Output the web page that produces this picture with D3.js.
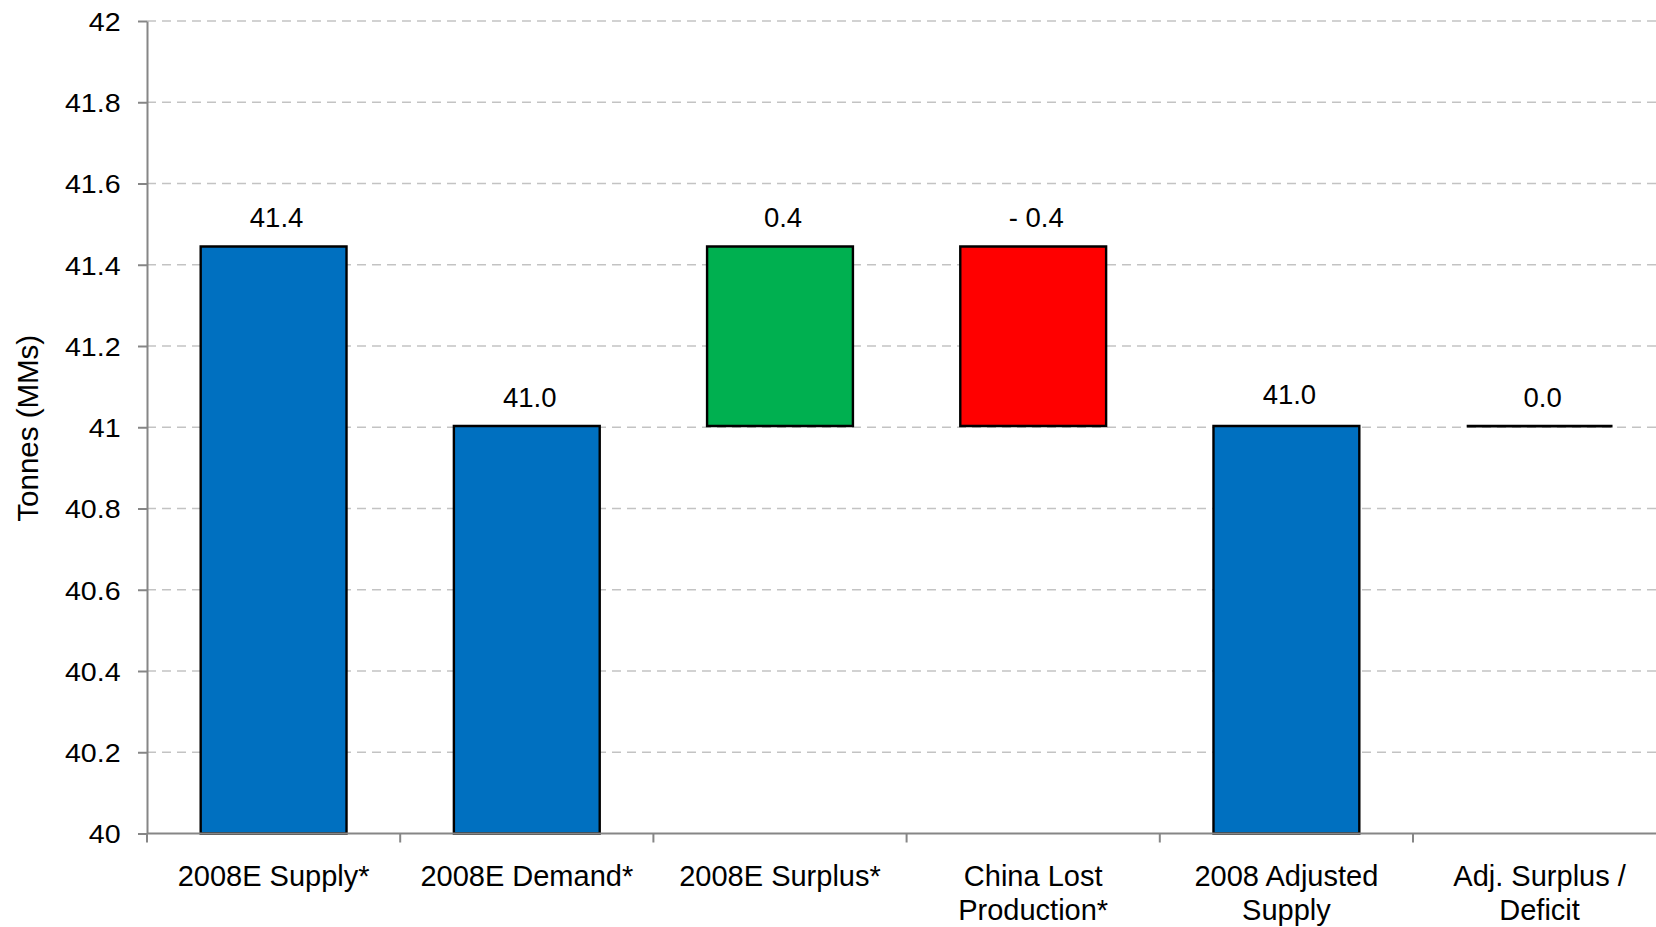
<!DOCTYPE html>
<html>
<head>
<meta charset="utf-8">
<script src="https://cdn.jsdelivr.net/npm/d3@7"></script>
<style>
  html, body { margin: 0; padding: 0; background: #ffffff; }
  svg { display: block; }
  text { font-family: "Liberation Sans", Arial, Helvetica, sans-serif; fill: #000; }
</style>
</head>
<body>
<svg id="chart" width="1656" height="927"></svg>
<script>
// Waterfall: 2008 supply/demand balance (million tonnes)
const categories = ["2008E Supply*", "2008E Demand*", "2008E Surplus*",
                    "China Lost Production*", "2008 Adjusted Supply", "Adj. Surplus / Deficit"];
const categoryLines = [["2008E Supply*"], ["2008E Demand*"], ["2008E Surplus*"],
                       ["China Lost", "Production*"], ["2008 Adjusted", "Supply"], ["Adj. Surplus /", "Deficit"]];
const values = [41.445, 41.003, 0.442, -0.442, 41.003, 0.0];
const kinds = ["total", "total", "delta", "delta", "total", "delta"];
const barColors = ["#0070C0", "#0070C0", "#00B050", "#FF0000", "#0070C0", "#0070C0"];
const yTicks = [40, 40.2, 40.4, 40.6, 40.8, 41, 41.2, 41.4, 41.6, 41.8, 42];
const yDomain = [40, 42];
const yTitle = "Tonnes (MMs)";

const svg = d3.select("#chart");
const W = 1656, H = 927;
const plot = { left: 147, top: 21, bottom: 833.5, step: 253.2 };

svg.append("rect").attr("width", W).attr("height", H).attr("fill", "#fff");

const y = d3.scaleLinear().domain(yDomain).range([plot.bottom, plot.top]);
const x = d3.scaleBand()
  .domain(categories)
  .range([plot.left, plot.left + plot.step * categories.length])
  .paddingInner(0.424)
  .paddingOuter(0.212);

// Running total -> low/high for each bar
let level = yDomain[0];
const bars = categories.map((c, i) => {
  const v = values[i];
  let lo, hi;
  if (kinds[i] === "total") {
    lo = yDomain[0]; hi = v; level = v;
  } else {
    const next = level + v;
    lo = Math.min(level, next); hi = Math.max(level, next); level = next;
  }
  return { c, v, kind: kinds[i], lo, hi, color: barColors[i] };
});

// Dashed gridlines
svg.append("g")
  .selectAll("line")
  .data(yTicks.filter(t => t !== yDomain[0]))
  .join("line")
  .attr("x1", plot.left).attr("x2", W)
  .attr("y1", d => y(d)).attr("y2", d => y(d))
  .attr("stroke", "#c3c3c3")
  .attr("stroke-width", 1.6)
  .attr("stroke-dasharray", "9,6");

// Bars (paths so a zero-height bar still shows as a line)
svg.append("g")
  .selectAll("path")
  .data(bars)
  .join("path")
  .attr("d", d => {
    const x0 = x(d.c), x1 = x0 + x.bandwidth();
    const y0 = y(d.hi), y1 = y(d.lo);
    return `M${x0},${y0}H${x1}V${y1}H${x0}Z`;
  })
  .attr("fill", d => d.color)
  .attr("stroke", "#000")
  .attr("stroke-width", d => d.hi === d.lo ? 2.8 : 2.4);

// Value labels
const fmt = d3.format(".1f");
svg.append("g")
  .selectAll("text")
  .data(bars)
  .join("text")
  .attr("x", d => x(d.c) + x.bandwidth() / 2 + 3)
  .attr("y", d => y(d.hi) - (d.kind === "total" && d.hi < 41.2 && d.c !== categories[1] ? 22 : 19))
  .attr("text-anchor", "middle")
  .attr("font-size", 27.5)
  .text(d => d.v < 0 ? "- " + fmt(-d.v) : fmt(d.v));

// Y axis
const yAxis = svg.append("g")
  .attr("transform", `translate(${plot.left},0)`)
  .call(d3.axisLeft(y).tickValues(yTicks).tickSize(9).tickSizeOuter(0).tickFormat(d3.format("~g")));
yAxis.select(".domain").attr("stroke", "#868686").attr("stroke-width", 2);
yAxis.selectAll(".tick line").attr("stroke", "#868686").attr("stroke-width", 2);
yAxis.selectAll(".tick text")
  .attr("x", -24)
  .attr("dy", "0.36em")
  .attr("transform", "scale(1.1,1)")
  .attr("font-size", 26)
  .attr("font-family", "Liberation Sans, Arial, sans-serif")
  .attr("fill", "#000");

// X axis line and boundary ticks
const xAxis = svg.append("g")
  .attr("transform", `translate(0,${plot.bottom})`)
  .call(d3.axisBottom(x).tickSize(0).tickSizeOuter(0).tickFormat(""));
xAxis.select(".domain").attr("stroke", "#868686").attr("stroke-width", 2)
  .attr("d", `M${plot.left},0H${W}`);
xAxis.selectAll(".tick").remove();
const gap = (x.step() - x.bandwidth()) / 2;
const boundaries = categories.map(c => x(c) - gap).concat([x(categories[categories.length - 1]) + x.bandwidth() + gap]);
xAxis.selectAll("line.bound")
  .data(boundaries)
  .join("line")
  .attr("class", "bound")
  .attr("x1", d => d).attr("x2", d => d)
  .attr("y1", 0).attr("y2", 9)
  .attr("stroke", "#868686").attr("stroke-width", 2);

// Category labels
const catG = svg.append("g");
categories.forEach((c, i) => {
  const t = catG.append("text")
    .attr("x", x(c) + x.bandwidth() / 2)
    .attr("y", 886)
    .attr("text-anchor", "middle")
    .attr("font-size", 29);
  categoryLines[i].forEach((line, j) => {
    t.append("tspan")
      .attr("x", x(c) + x.bandwidth() / 2)
      .attr("dy", j === 0 ? 0 : 34)
      .text(line);
  });
});

// Y axis title
svg.append("text")
  .attr("transform", `translate(38,${(plot.top + plot.bottom) / 2 + 1}) rotate(-90)`)
  .attr("text-anchor", "middle")
  .attr("font-size", 29.5)
  .text(yTitle);
</script>
</body>
</html>
